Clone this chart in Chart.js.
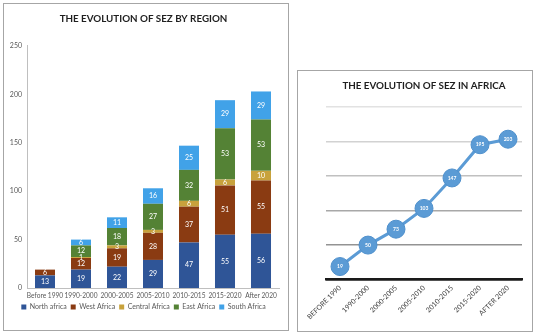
<!DOCTYPE html>
<html>
<head>
<meta charset="utf-8">
<script src="https://cdn.jsdelivr.net/npm/chart.js@4.4.1/dist/chart.umd.min.js"></script>
<style>
  html, body { margin: 0; padding: 0; background: #fff; }
  body { width: 540px; height: 335px; position: relative; overflow: hidden; }
  .panel { position: absolute; box-sizing: border-box; border: 1px solid #a6a6a6; background: #fff; }
  #p1 { left: 3px; top: 3px; width: 286px; height: 328px; }
  #p2 { left: 297px; top: 70px; width: 236px; height: 262px; }
  canvas { display: block; }
</style>
</head>
<body>
<div class="panel" id="p1"><canvas id="regionChart" width="284" height="326"></canvas></div>
<div class="panel" id="p2"><canvas id="africaChart" width="234" height="260"></canvas></div>
<script>
// Periods and SEZ counts per region
const periods = ['Before 1990', '1990-2000', '2000-2005', '2005-2010', '2010-2015', '2015-2020', 'After 2020'];
const periodsUpper = ['BEFORE 1990', '1990-2000', '2000-2005', '2005-2010', '2010-2015', '2015-2020', 'AFTER 2020'];
const northAfrica   = [13, 19, 22, 29, 47, 55, 56];
const westAfrica    = [6, 12, 19, 28, 37, 51, 55];
const centralAfrica = [null, 1, 3, 3, 6, 6, 10];
const eastAfrica    = [null, 12, 18, 27, 32, 53, 53];
const southAfrica   = [null, 6, 11, 16, 25, 29, 29];
// Total SEZ in Africa per period
const totalSez = [19, 50, 73, 103, 147, 195, 203];
const yTicks = [0, 50, 100, 150, 200, 250];

const FONT = "Lato, 'Open Sans', 'Liberation Sans', sans-serif";
Chart.defaults.font.family = FONT;

// Writes each stacked segment's value in its middle
const segmentLabels = {
  id: 'segmentLabels',
  afterDatasetsDraw(chart) {
    const ctx = chart.ctx;
    ctx.save();
    ctx.font = '7px ' + FONT;
    ctx.fillStyle = '#ffffff';
    ctx.textAlign = 'center';
    ctx.textBaseline = 'middle';
    chart.data.datasets.forEach((ds, i) => {
      const meta = chart.getDatasetMeta(i);
      meta.data.forEach((bar, j) => {
        const v = ds.data[j];
        if (v === null || v === undefined) return;
        ctx.fillText(String(v), bar.x, (bar.y + bar.base) / 2);
      });
    });
    ctx.restore();
  }
};

// Writes the value inside each marker of the line
const pointLabels = {
  id: 'pointLabels',
  afterDatasetsDraw(chart) {
    const ctx = chart.ctx;
    ctx.save();
    ctx.font = 'bold 5px ' + FONT;
    ctx.fillStyle = '#ffffff';
    ctx.textAlign = 'center';
    ctx.textBaseline = 'middle';
    chart.data.datasets.forEach((ds, i) => {
      chart.getDatasetMeta(i).data.forEach((pt, j) => {
        ctx.fillText(String(ds.data[j]), pt.x, pt.y);
      });
    });
    ctx.restore();
  }
};

new Chart(document.getElementById('regionChart'), {
  type: 'bar',
  data: {
    labels: periods,
    datasets: [
      { label: 'North africa',   data: northAfrica,   backgroundColor: '#2f5597' },
      { label: 'West Africa',    data: westAfrica,    backgroundColor: '#8a3b12' },
      { label: 'Central Africa', data: centralAfrica, backgroundColor: '#c8a23c' },
      { label: 'East Africa',    data: eastAfrica,    backgroundColor: '#548235' },
      { label: 'South Africa',   data: southAfrica,   backgroundColor: '#41a2e8' }
    ]
  },
  options: {
    responsive: false,
    animation: false,
    layout: { padding: { left: 4, right: 9, top: 0, bottom: 9.5 } },
    datasets: { bar: { categoryPercentage: 1, barPercentage: 0.556 } },
    scales: {
      x: {
        stacked: true,
        grid: { display: false, drawTicks: false },
        border: { display: true, color: '#bfbfbf', width: 1 },
        ticks: { padding: 4, font: { size: 6.6 }, color: '#595959', maxRotation: 0, autoSkip: false },
        afterFit(s) { s.height = 11.5; }
      },
      y: {
        stacked: true,
        min: 0, max: 250,
        afterBuildTicks(s) { s.ticks = yTicks.map(v => ({ value: v })); },
        grid: { display: false, drawTicks: false },
        border: { display: true, color: '#bfbfbf', width: 1 },
        ticks: { padding: 5, font: { size: 7 }, color: '#595959' },
        afterFit(s) { s.width = 19; }
      }
    },
    plugins: {
      title: {
        display: true,
        text: 'THE EVOLUTION OF SEZ BY REGION',
        font: { size: 9.8, weight: 'bold' },
        color: '#1f1f1f',
        padding: { top: 9.1, bottom: 21.1 }
      },
      legend: {
        position: 'bottom',
        labels: { boxWidth: 5, boxHeight: 5, padding: 4, font: { size: 7 }, color: '#595959' }
      },
      tooltip: { enabled: false }
    }
  },
  plugins: [segmentLabels]
});

const gridShade = { 250: '#e2e2e2', 200: '#d2d2d2', 150: '#c0c0c0', 100: '#a8a8a8', 50: '#939393', 0: '#1a1a1a' };

new Chart(document.getElementById('africaChart'), {
  type: 'line',
  data: {
    labels: periodsUpper,
    datasets: [{
      label: 'SEZ in Africa',
      data: totalSez,
      borderColor: '#5b9bd5',
      backgroundColor: '#5b9bd5',
      borderWidth: 3,
      pointRadius: 9,
      pointBorderWidth: 1,
      pointBorderColor: '#4f90cc',
      tension: 0
    }]
  },
  options: {
    responsive: false,
    animation: false,
    layout: { padding: { left: 28, right: 10, top: 0, bottom: 0 } },
    scales: {
      x: {
        offset: true,
        grid: { display: false, drawTicks: false },
        border: { display: true, color: '#1a1a1a', width: 2.5 },
        ticks: { padding: 4, minRotation: 45, maxRotation: 45, font: { size: 7 }, color: '#404040', autoSkip: false },
        afterFit(s) { s.height = 51.3; }
      },
      y: {
        min: 0, max: 250,
        afterBuildTicks(s) { s.ticks = yTicks.map(v => ({ value: v })); },
        ticks: { display: false },
        grid: { drawTicks: false, lineWidth: 1.5, color: c => gridShade[c.tick ? c.tick.value : 0] || '#c0c0c0' },
        border: { display: false },
        afterFit(s) { s.width = 0; }
      }
    },
    plugins: {
      title: {
        display: true,
        text: 'THE EVOLUTION OF SEZ IN AFRICA',
        font: { size: 9.8, weight: 'bold' },
        color: '#1f1f1f',
        padding: { top: 8.8, bottom: 15.1 }
      },
      legend: { display: false },
      tooltip: { enabled: false }
    }
  },
  plugins: [pointLabels]
});
</script>
</body>
</html>
